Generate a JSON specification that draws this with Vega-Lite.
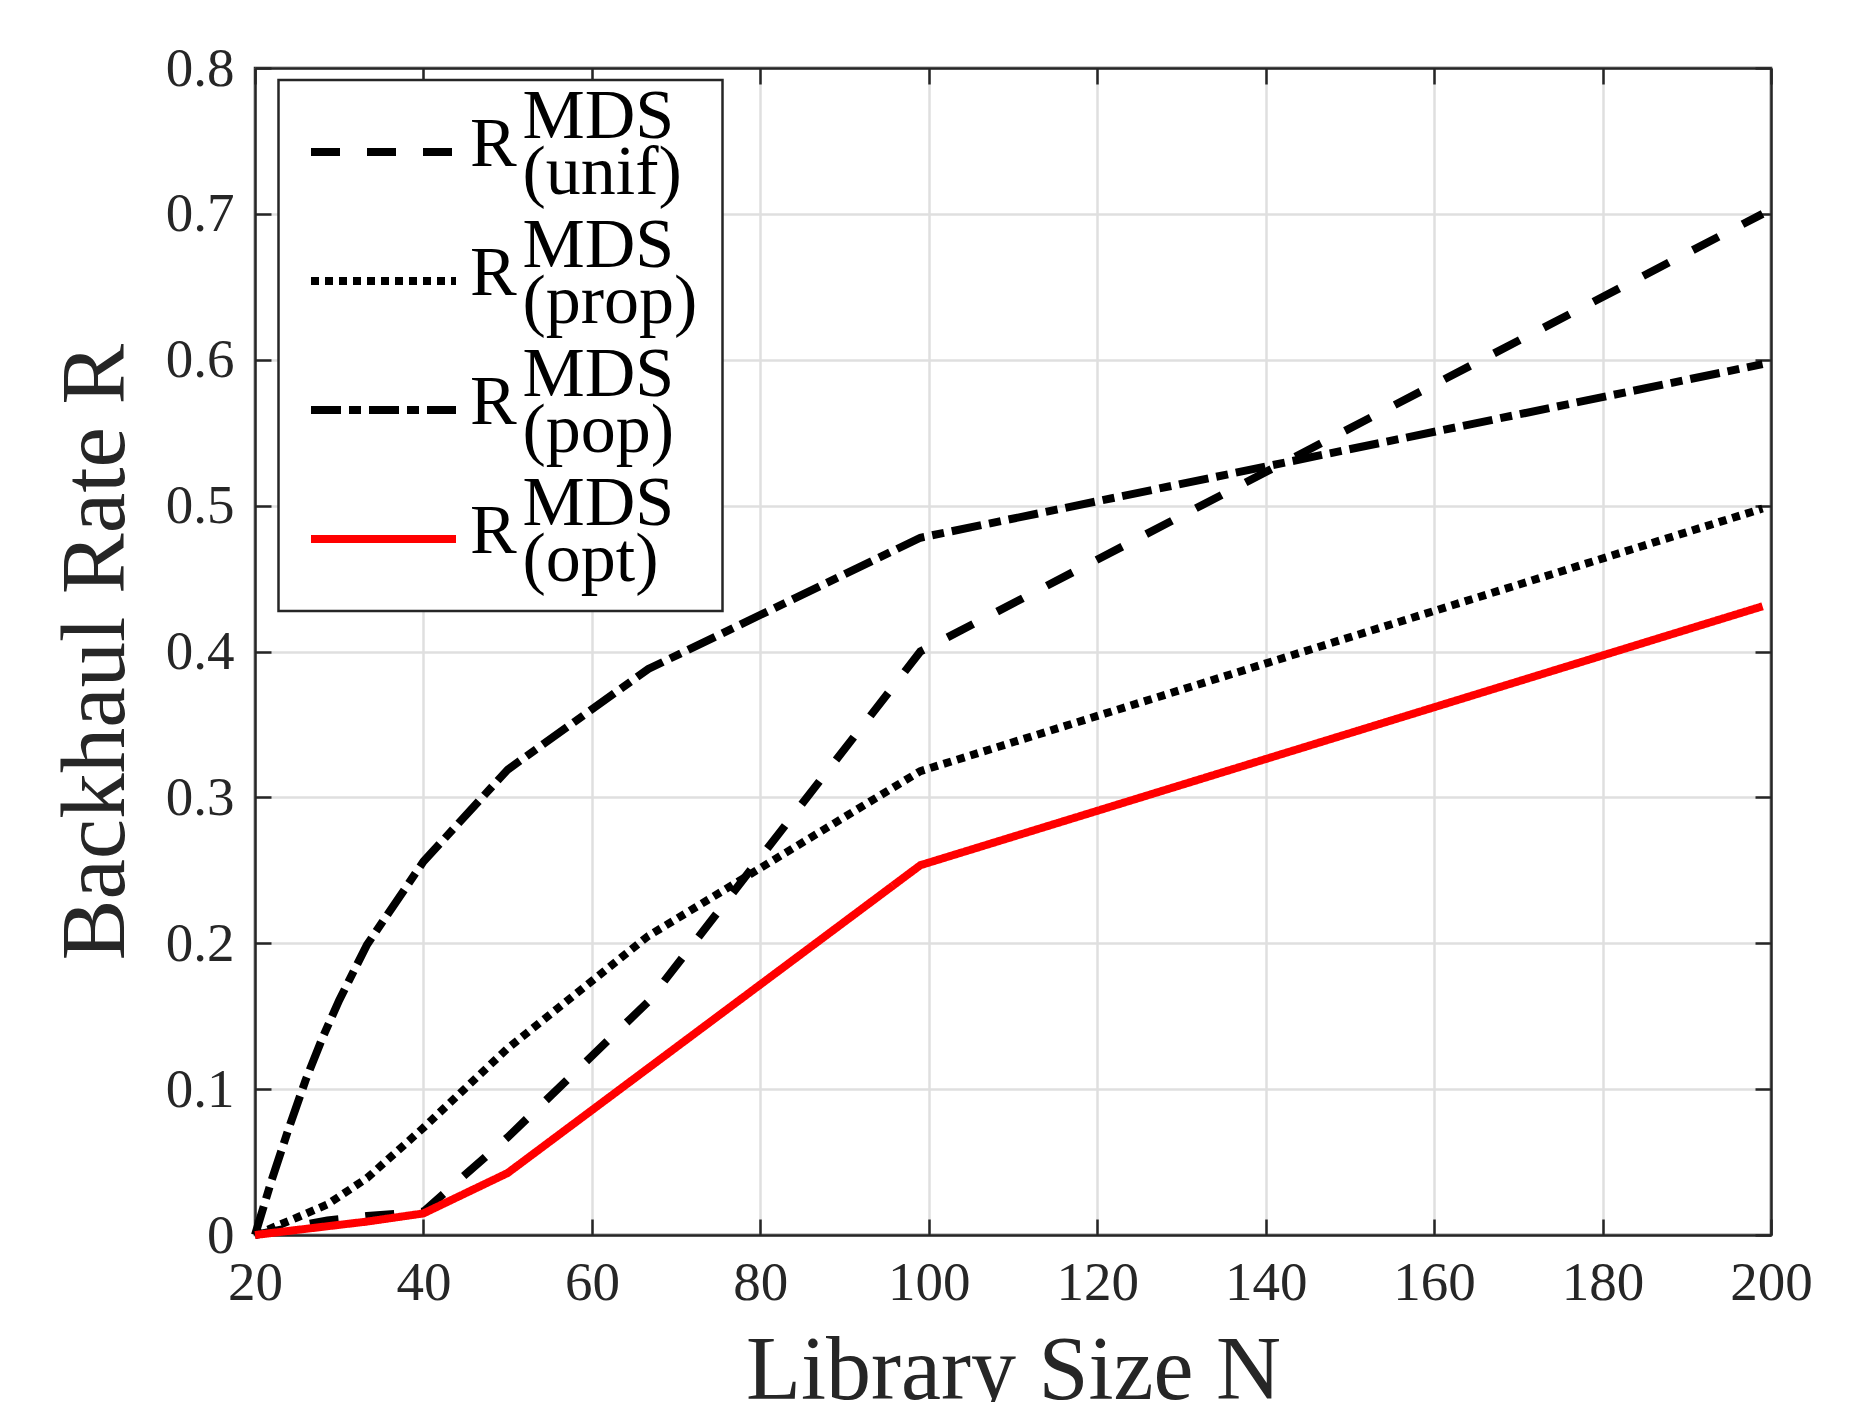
{
  "$schema": "https://vega.github.io/schema/vega-lite/v6.json",
  "width": 1516,
  "height": 1167,
  "autosize": {"type": "none"},
  "padding": {"left": 255, "top": 68, "right": 95, "bottom": 167},
  "background": "white",
  "config": {"view": {"stroke": "#262626", "strokeWidth": 2.5}, "font": "Liberation Serif", "legend": {"strokeWidth": 2.5}},
  "data": {
    "values": [
      {"series": "unif", "N": 20, "R": 0},
      {"series": "unif", "N": 25, "R": 0.006},
      {"series": "unif", "N": 28.6, "R": 0.010},
      {"series": "unif", "N": 33.3, "R": 0.013},
      {"series": "unif", "N": 40, "R": 0.016},
      {"series": "unif", "N": 50, "R": 0.067},
      {"series": "unif", "N": 66.7, "R": 0.160},
      {"series": "unif", "N": 99, "R": 0.400},
      {"series": "unif", "N": 199, "R": 0.700},
      {"series": "prop", "N": 20, "R": 0},
      {"series": "prop", "N": 25, "R": 0.012},
      {"series": "prop", "N": 28.6, "R": 0.021},
      {"series": "prop", "N": 33.3, "R": 0.039},
      {"series": "prop", "N": 40, "R": 0.0735},
      {"series": "prop", "N": 50, "R": 0.128},
      {"series": "prop", "N": 66.7, "R": 0.205},
      {"series": "prop", "N": 99, "R": 0.318},
      {"series": "prop", "N": 199, "R": 0.498},
      {"series": "pop", "N": 20, "R": 0},
      {"series": "pop", "N": 22, "R": 0.038},
      {"series": "pop", "N": 24, "R": 0.073},
      {"series": "pop", "N": 26, "R": 0.106},
      {"series": "pop", "N": 28, "R": 0.135},
      {"series": "pop", "N": 30, "R": 0.161},
      {"series": "pop", "N": 33.3, "R": 0.199},
      {"series": "pop", "N": 40, "R": 0.256},
      {"series": "pop", "N": 50, "R": 0.319},
      {"series": "pop", "N": 66.7, "R": 0.388},
      {"series": "pop", "N": 99, "R": 0.478},
      {"series": "pop", "N": 199, "R": 0.597},
      {"series": "opt", "N": 20, "R": 0},
      {"series": "opt", "N": 25, "R": 0.0035},
      {"series": "opt", "N": 28.6, "R": 0.006},
      {"series": "opt", "N": 33.3, "R": 0.0092},
      {"series": "opt", "N": 40, "R": 0.0148},
      {"series": "opt", "N": 50, "R": 0.0425},
      {"series": "opt", "N": 99, "R": 0.2535},
      {"series": "opt", "N": 199, "R": 0.431}
    ]
  },
  "layer": [
    {
      "mark": {"type": "line", "strokeWidth": 8, "strokeCap": "butt", "strokeJoin": "miter"},
      "encoding": {
        "x": {
          "field": "N", "type": "quantitative",
          "scale": {"domain": [20, 200], "nice": false, "zero": false},
          "axis": {
            "orient": "bottom",
            "values": [20, 40, 60, 80, 100, 120, 140, 160, 180, 200],
            "grid": true, "gridColor": "#dfdfdf", "gridWidth": 2.5,
            "tickSize": -16, "tickColor": "#262626", "tickWidth": 2.5,
            "domainColor": "#262626", "domainWidth": 2.5,
            "labelFont": "Liberation Serif", "labelFontSize": 55, "labelColor": "#262626",
            "labelPadding": 37, "labelFlush": false, "labelOverlap": false,
            "title": "Library Size N", "titleFont": "Liberation Serif", "titleFontSize": 90,
            "titleFontWeight": "normal", "titleColor": "#262626",
            "titleX": 758, "titleY": 163, "titleBaseline": "alphabetic", "titleAlign": "center"
          }
        },
        "y": {
          "field": "R", "type": "quantitative",
          "scale": {"domain": [0, 0.8], "nice": false},
          "axis": {
            "orient": "left",
            "values": [0, 0.1, 0.2, 0.3, 0.4, 0.5, 0.6, 0.7, 0.8],
            "labelExpr": "datum.value == 0 ? '0' : format(datum.value, '.1f')",
            "grid": true, "gridColor": "#dfdfdf", "gridWidth": 2.5,
            "tickSize": -16, "tickColor": "#262626", "tickWidth": 2.5,
            "domainColor": "#262626", "domainWidth": 2.5,
            "labelFont": "Liberation Serif", "labelFontSize": 55, "labelColor": "#262626",
            "labelPadding": 37, "labelFlush": false, "labelOverlap": false,
            "title": "Backhaul Rate R", "titleFont": "Liberation Serif", "titleFontSize": 91,
            "titleFontWeight": "normal", "titleColor": "#262626",
            "titleX": -132, "titleY": 583.5, "titleAngle": -90,
            "titleBaseline": "alphabetic", "titleAlign": "center"
          }
        },
        "color": {
          "field": "series", "type": "nominal",
          "scale": {"domain": ["unif", "prop", "pop", "opt"], "range": ["#000000", "#000000", "#000000", "#ff0000"]},
          "legend": {
            "orient": "none", "legendX": 23.5, "legendY": 12, "title": null,
            "symbolType": "stroke", "symbolSize": 21025, "symbolStrokeWidth": 8, "symbolOffset": 21,
            "padding": 7.5, "labelOffset": 10, "rowPadding": -17, "clipHeight": 129,
            "labelFont": "Liberation Serif", "labelFontSize": 70,
            "labelColor": "#000000", "labelLimit": 600, "labelAlign": "left", "labelBaseline": "middle",
            "strokeColor": "#262626", "fillColor": "white",
            "encode": {"labels": {"update": {"lineHeight": {"value": 28}, "dy": {"value": -35}}}},
            "labelExpr": "datum.label == 'unif' ? ['\u200b\u00a0\u00a0\u00a0MDS', 'R', '\u200b\u00a0\u00a0\u00a0(unif)'] : datum.label == 'prop' ? ['\u200b\u00a0\u00a0\u00a0MDS', 'R', '\u200b\u00a0\u00a0\u00a0(prop)\u00a0\u200b'] : datum.label == 'pop' ? ['\u200b\u00a0\u00a0\u00a0MDS', 'R', '\u200b\u00a0\u00a0\u00a0(pop)'] : ['\u200b\u00a0\u00a0\u00a0MDS', 'R', '\u200b\u00a0\u00a0\u00a0(opt)']"
          }
        },
        "strokeDash": {
          "field": "series", "type": "nominal",
          "scale": {"domain": ["unif", "prop", "pop", "opt"], "range": [[29, 27], [8, 6], [30, 8, 12, 8], [1, 0]]},
          "legend": {
            "orient": "none", "legendX": 23.5, "legendY": 12, "title": null,
            "symbolType": "stroke", "symbolSize": 21025, "symbolStrokeWidth": 8, "symbolOffset": 21,
            "padding": 7.5, "labelOffset": 10, "rowPadding": -17, "clipHeight": 129,
            "labelFont": "Liberation Serif", "labelFontSize": 70,
            "labelColor": "#000000", "labelLimit": 600, "labelAlign": "left", "labelBaseline": "middle",
            "strokeColor": "#262626", "fillColor": "white",
            "encode": {"labels": {"update": {"lineHeight": {"value": 28}, "dy": {"value": -35}}}},
            "labelExpr": "datum.label == 'unif' ? ['\u200b\u00a0\u00a0\u00a0MDS', 'R', '\u200b\u00a0\u00a0\u00a0(unif)'] : datum.label == 'prop' ? ['\u200b\u00a0\u00a0\u00a0MDS', 'R', '\u200b\u00a0\u00a0\u00a0(prop)\u00a0\u200b'] : datum.label == 'pop' ? ['\u200b\u00a0\u00a0\u00a0MDS', 'R', '\u200b\u00a0\u00a0\u00a0(pop)'] : ['\u200b\u00a0\u00a0\u00a0MDS', 'R', '\u200b\u00a0\u00a0\u00a0(opt)']"
          }
        }
      }
    },
    {
      "mark": {"type": "point", "opacity": 0},
      "encoding": {
        "x": {
          "field": "N", "type": "quantitative",
          "axis": {
            "orient": "top", "values": [20, 40, 60, 80, 100, 120, 140, 160, 180, 200],
            "labels": false, "grid": false, "title": null,
            "tickSize": -16, "tickColor": "#262626", "tickWidth": 2.5,
            "domainColor": "#262626", "domainWidth": 2.5
          }
        },
        "y": {
          "field": "R", "type": "quantitative",
          "axis": {
            "orient": "right", "values": [0, 0.1, 0.2, 0.3, 0.4, 0.5, 0.6, 0.7, 0.8],
            "labels": false, "grid": false, "title": null,
            "tickSize": -16, "tickColor": "#262626", "tickWidth": 2.5,
            "domainColor": "#262626", "domainWidth": 2.5
          }
        }
      }
    }
  ],
  "resolve": {"axis": {"x": "independent", "y": "independent"}}
}
